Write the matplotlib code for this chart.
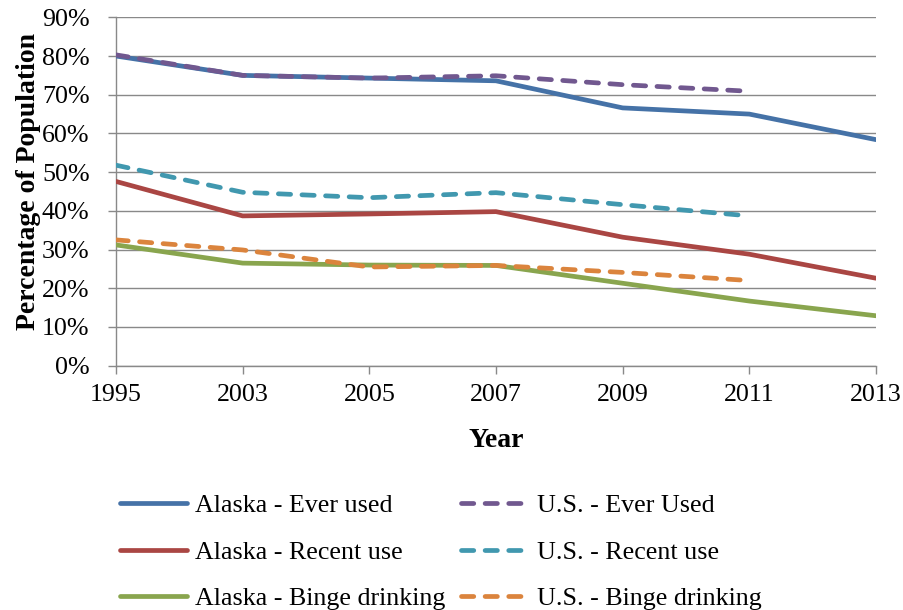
import numpy as np
import matplotlib
matplotlib.use('Agg')
import matplotlib.pyplot as plt
from matplotlib.ticker import PercentFormatter

plt.rcParams['font.family'] = ['Liberation Serif', 'DejaVu Serif']

# 数据
years = ['1995', '2003', '2005', '2007', '2009', '2011', '2013']
ak_ever = [80.0, 75.0, 74.3, 73.6, 66.6, 65.0, 58.4]
ak_recent = [47.6, 38.7, 39.2, 39.8, 33.2, 28.8, 22.6]
ak_binge = [31.2, 26.5, 26.0, 25.9, 21.3, 16.7, 12.9]
us_ever = [80.3, 75.0, 74.3, 74.9, 72.6, 70.9]
us_recent = [51.8, 44.8, 43.4, 44.7, 41.6, 38.7]
us_binge = [32.5, 29.9, 25.5, 25.9, 24.1, 22.0]

fig = plt.figure(figsize=(9.04, 6.10), dpi=100)
ax = fig.add_axes([0.1283, 0.4005, 0.8407, 0.5711])

x = np.arange(len(years))
lw = 3.4
dash = (0, (2.6, 2.4))
tick_fs = 18.7
title_fs = 20

ak_lines = []
for vals, c, name in [(ak_ever, '#4572A7', 'Alaska - Ever used'),
                      (ak_recent, '#AA4643', 'Alaska - Recent use'),
                      (ak_binge, '#89A54E', 'Alaska - Binge drinking')]:
    ln, = ax.plot(x[:len(vals)], vals, color=c, lw=lw, label=name,
                  solid_capstyle='round', solid_joinstyle='round', zorder=3)
    ak_lines.append(ln)

us_lines = []
for vals, c, name in [(us_ever, '#71588F', 'U.S. - Ever Used'),
                      (us_recent, '#4198AF', 'U.S. - Recent use'),
                      (us_binge, '#DB843D', 'U.S. - Binge drinking')]:
    ln, = ax.plot(x[:len(vals)], vals, color=c, lw=lw, ls=dash, label=name,
                  dash_capstyle='round', dash_joinstyle='round', zorder=4)
    us_lines.append(ln)

ax.set_xlim(0, len(years) - 1)
ax.set_ylim(0, 90)
ax.set_yticks(np.arange(0, 91, 10))
ax.yaxis.set_major_formatter(PercentFormatter(decimals=0))
ax.set_xticks(x)
ax.set_xticklabels(years)

grid_c = '#898989'
ax.grid(axis='y', color=grid_c, lw=1.0)
ax.set_axisbelow(True)
for s in ['top', 'right']:
    ax.spines[s].set_visible(False)
for s in ['left', 'bottom']:
    ax.spines[s].set_color(grid_c)
    ax.spines[s].set_linewidth(1.0)
ax.tick_params(axis='both', colors=grid_c, labelcolor='black', labelsize=tick_fs,
               length=6, width=1.0, direction='out')
ax.tick_params(axis='x', pad=7)
ax.tick_params(axis='y', pad=13)

ax.set_xlabel('Year', fontsize=title_fs, fontweight='bold', labelpad=16)
ax.set_ylabel('Percentage of Population', fontsize=title_fs, fontweight='bold', labelpad=1)
ax.yaxis.label.set_y(0.53)

handles = ak_lines + us_lines
fig.legend(handles, [h.get_label() for h in handles], ncol=2,
           loc='center left', bbox_to_anchor=(0.1327, 0.095),
           frameon=False, fontsize=tick_fs, handlelength=2.6, handletextpad=0.3,
           columnspacing=0.6, labelspacing=0.9, borderpad=0, borderaxespad=0)

plt.savefig('out.png', dpi=100)
